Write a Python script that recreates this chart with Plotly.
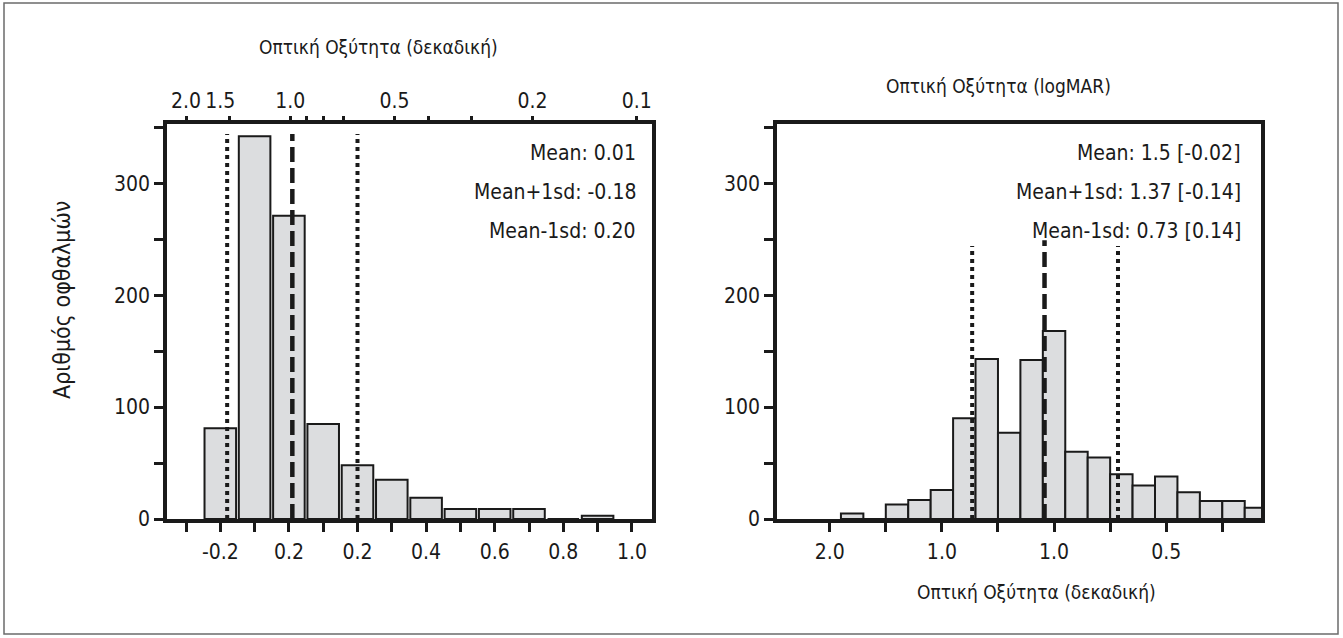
import math
import plotly.graph_objects as go

# ---------------- data ----------------
# Left histogram: logMAR bin centres and counts
left_bins = [-0.2, -0.1, 0.0, 0.1, 0.2, 0.3, 0.4, 0.5, 0.6, 0.7, 0.8, 0.9]
left_counts = [81, 342, 271, 85, 48, 35, 19, 9, 9, 9, 0, 3]

# Left bottom axis (logMAR) ticks and labels as printed
left_xticks = [-0.3, -0.2, -0.1, 0.0, 0.1, 0.2, 0.3, 0.4, 0.5, 0.6, 0.7, 0.8, 0.9, 1.0]
left_xlabels = ["", "-0.2", "", "0.2", "", "0.2", "", "0.4", "", "0.6", "", "0.8", "", "1.0"]

# Left top axis (decimal acuity)
top_decimal = [2.0, 1.5, 1.0, 0.9, 0.8, 0.7, 0.5, 0.4, 0.3, 0.2, 0.1]
top_labels = ["2.0", "1.5", "1.0", "", "", "", "0.5", "", "", "0.2", "0.1"]

# Left reference lines (logMAR): mean+1sd, mean, mean-1sd
left_lines = [-0.18, 0.01, 0.20]
left_line_top = 344
left_texts = ["Mean: 0.01", "Mean+1sd: -0.18", "Mean-1sd: 0.20"]

# Right histogram
right_bins = [-0.36, -0.32, -0.28, -0.24, -0.20, -0.16, -0.12, -0.08, -0.04, 0.00,
              0.04, 0.08, 0.12, 0.16, 0.20, 0.24, 0.28, 0.32, 0.36]
right_counts = [5, 0, 13, 17, 26, 90, 143, 77, 142, 168,
                60, 55, 40, 30, 38, 24, 16, 16, 10]
right_xticks = [-0.4, -0.3, -0.2, -0.1, 0.0, 0.1, 0.2, 0.3]
right_xlabels = ["2.0", "", "1.0", "", "1.0", "", "0.5", ""]
right_lines = [-0.146, -0.017, 0.114]
right_line_tops = [244, 249, 244]
right_texts = ["Mean: 1.5 [-0.02]", "Mean+1sd: 1.37 [-0.14]", "Mean-1sd: 0.73 [0.14]"]

# y axis
y_ticks = [0, 50, 100, 150, 200, 250, 300, 350]
y_labels = ["0", "", "100", "", "200", "", "300", ""]

# ---------------- style ----------------
W, H = 1343, 638
FONT = "DejaVu Sans Condensed, Liberation Sans Narrow, sans-serif"
INK = "#1a1a1a"
BAR_FILL = "#dcdddf"
NB = "\u00a0"

def px(x):
    return x / W

def py(y):
    return 1 - y / H

fig = go.Figure()

fig.add_trace(go.Bar(x=left_bins, y=left_counts, width=0.092,
                     marker=dict(color=BAR_FILL, line=dict(color=INK, width=2)),
                     xaxis="x", yaxis="y", showlegend=False, hoverinfo="x+y"))
fig.add_trace(go.Scatter(x=[], y=[], xaxis="x3", yaxis="y", showlegend=False))
fig.add_trace(go.Bar(x=right_bins, y=right_counts, width=0.04,
                     marker=dict(color=BAR_FILL, line=dict(color=INK, width=2)),
                     xaxis="x2", yaxis="y2", showlegend=False, hoverinfo="x+y"))

dot = "4px,4px"
dash = "15px,6px"
styles = [dot, dash, dot]
widths = [4, 4.5, 4]
for v, s, w in zip(left_lines, styles, widths):
    fig.add_trace(go.Scatter(x=[v, v], y=[0, left_line_top], mode="lines",
                             line=dict(color=INK, width=w, dash=s),
                             xaxis="x", yaxis="y", showlegend=False, hoverinfo="skip"))
for v, top, s, w in zip(right_lines, right_line_tops, styles, widths):
    fig.add_trace(go.Scatter(x=[v, v], y=[0, top], mode="lines",
                             line=dict(color=INK, width=w, dash=s),
                             xaxis="x2", yaxis="y2", showlegend=False, hoverinfo="skip"))

L_X0, L_X1 = 167, 652
R_X0, R_X1 = 777, 1261
Y_TOP, Y_BOT = 124, 519

axis_common = dict(showgrid=False, zeroline=False, ticks="outside", ticklen=9,
                   tickwidth=3, tickcolor=INK, linecolor=INK, linewidth=3.5,
                   tickangle=0, automargin=False,
                   tickfont=dict(family=FONT, size=21, color=INK))

top_text = [t + (NB * 3 if t == "1.5" else "") for t in top_labels]

fig.update_layout(
    width=W, height=H,
    margin=dict(l=0, r=0, t=0, b=0, autoexpand=False),
    paper_bgcolor="white", plot_bgcolor="white",
    font=dict(family=FONT, color=INK),
    xaxis=dict(domain=[px(L_X0), px(L_X1)], range=[-0.3554, 1.0586],
               tickmode="array", tickvals=left_xticks, ticktext=left_xlabels,
               showline=True, mirror=True, anchor="y", ticklabelstandoff=2,
               **axis_common),
    xaxis3=dict(overlaying="x", side="top", anchor="y", range=[-0.356, 1.044],
                tickmode="array", tickvals=[-math.log10(d) for d in top_decimal],
                ticktext=top_text, showline=False, ticklen=7,
                **{k: v for k, v in axis_common.items() if k != "ticklen"}),
    yaxis=dict(domain=[py(Y_BOT), py(Y_TOP)], range=[0, 353], anchor="x",
               tickmode="array", tickvals=y_ticks, ticktext=y_labels,
               showline=True, mirror=True, **axis_common),
    xaxis2=dict(domain=[px(R_X0), px(R_X1)], range=[-0.494, 0.369], anchor="y2",
                tickmode="array", tickvals=right_xticks, ticktext=right_xlabels,
                showline=True, mirror=True, ticklabelstandoff=2, **axis_common),
    yaxis2=dict(domain=[py(Y_BOT), py(Y_TOP)], range=[0, 353], anchor="x2",
                tickmode="array", tickvals=y_ticks, ticktext=y_labels,
                showline=True, mirror=True, **axis_common),
)

ann = []
def text(x, y, t, size=21, xanchor="center", angle=0):
    ann.append(dict(x=px(x), y=py(y), xref="paper", yref="paper", text=t,
                    showarrow=False, xanchor=xanchor, yanchor="middle",
                    textangle=angle, font=dict(family=FONT, size=size, color=INK)))

text(378, 47, "Οπτική Οξύτητα (δεκαδική)", size=19)
text(998, 86, "Οπτική Οξύτητα (logMAR)", size=19)
text(1036, 592, "Οπτική Οξύτητα (δεκαδική)", size=19)
text(62, 300, "Αριθμός οφθαλμών", size=23, angle=-90)
for i, t in enumerate(left_texts):
    text(638, 153 + 39 * i, t, xanchor="right")
for i, t in enumerate(right_texts):
    text(1243, 153 + 39 * i, t, xanchor="right")

fig.update_layout(annotations=ann)
fig.add_shape(type="rect", xref="paper", yref="paper",
              x0=px(4), x1=px(1338), y0=py(634), y1=py(3),
              line=dict(color="#6b6b6b", width=1.5))

fig.write_html("out.html")
